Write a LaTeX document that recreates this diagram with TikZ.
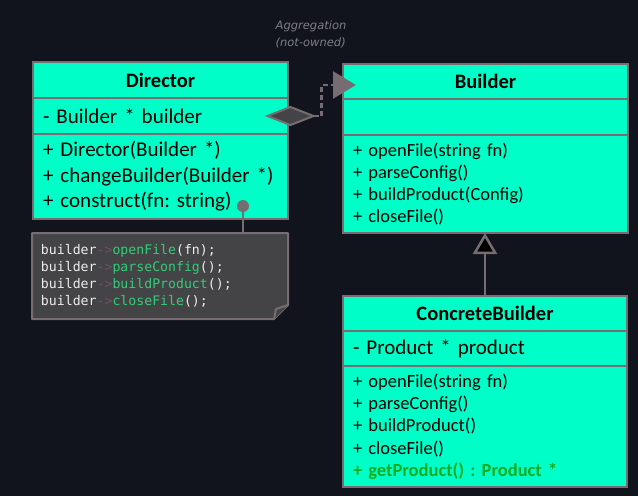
\documentclass[tikz,border=0pt]{standalone}
\usepackage{fontspec}
\setmainfont{Carlito}
\newfontfamily\codefont{DejaVu Sans Mono}
\newfontfamily\labelfont{DejaVu Sans}
\usepackage{xcolor}
\definecolor{bgdark}{RGB}{17,20,28}
\definecolor{boxfill}{RGB}{0,255,200}
\definecolor{boxline}{RGB}{118,108,114}
\definecolor{notefill}{RGB}{68,68,70}
\definecolor{codewhite}{RGB}{236,236,236}
\definecolor{codegreen}{RGB}{50,205,120}
\definecolor{codearrow}{RGB}{115,80,100}
\definecolor{getgreen}{RGB}{20,170,30}
\definecolor{labelgray}{RGB}{125,125,135}
\usepackage{tikz}
\usetikzlibrary{positioning,shapes.geometric,arrows.meta}
\frenchspacing

\begin{document}
\begin{tikzpicture}[x=1pt,y=-1pt,
  box/.style={draw=boxline, line width=2.5pt, fill=boxfill, outer sep=0pt,
    inner ysep=0pt, text=black},
  head/.style={box, font=\fontsize{20.5}{24}\selectfont\bfseries},
  cell/.style={box, align=left, inner xsep=10pt, text width=#1},
  big/.style={font=\fontsize{21}{25.5}\selectfont},
  small/.style={font=\fontsize{18.5}{22.3}\selectfont},
  note/.style={align=left, inner xsep=9pt, inner ysep=0pt, outer sep=0pt,
    text width=238pt, minimum height=86pt, text=codewhite,
    font=\codefont\fontsize{13.2}{17}\selectfont},
  notebox/.style={draw=boxline, line width=2pt, fill=notefill, line join=round},
  dot/.style={circle, fill=boxline, inner sep=0pt, minimum size=12pt},
  link/.style={draw=boxline, line width=2.5pt},
  aggdiamond/.style={diamond, draw=boxline, fill=notefill, line width=2pt,
    minimum width=46pt, minimum height=18pt, inner sep=0pt, outer sep=0pt},
  aggline/.style={link, dash pattern=on 5pt off 3pt,
    -{Triangle[width=27pt, length=23pt]}},
  inherit/.style={link, -{Triangle[fill=black, width=24pt, length=21pt]}},
  agglabel/.style={align=left, text=labelgray,
    font=\labelfont\itshape\fontsize{11.5}{17}\selectfont}]
  \fill[bgdark] (0,0) rectangle (638,496);

  % Director
  \node[head, minimum width=255pt, minimum height=36pt] (dirhead) at (160.5,80) {Director};
  \node[cell=235pt, big, minimum height=36pt, below=0pt of dirhead] (dirattr)
    {- Builder * builder};
  \node[cell=235pt, big, minimum height=85pt, below=0pt of dirattr] (dirmeth)
    {+ Director(Builder *)\\+ changeBuilder(Builder *)\\+ construct(fn: string)};

  % Builder
  \node[head, minimum width=285pt, minimum height=35pt] (bldhead) at (485.5,81.5) {Builder};
  \node[cell=265pt, minimum height=36pt, below=0pt of bldhead] (bldattr) {};
  \node[cell=265pt, small, minimum height=98pt, below=0pt of bldattr] (bldmeth)
    {+ openFile(string fn)\\+ parseConfig()\\+ buildProduct(Config)\\+ closeFile()};

  % ConcreteBuilder
  \node[head, minimum width=284pt, minimum height=35pt] (cbhead) at (485,313.5) {ConcreteBuilder};
  \node[cell=264pt, big, minimum height=35pt, below=0pt of cbhead] (cbattr)
    {- Product * product};
  \node[cell=264pt, small, minimum height=121pt, below=0pt of cbattr] (cbmeth)
    {+ openFile(string fn)\\+ parseConfig()\\+ buildProduct()\\+ closeFile()\\
     \textcolor{getgreen}{\bfseries + getProduct() : Product *}};

  % note
  \path[notebox] (32,233) -- (288,233) -- (288,305) -- (274,319) -- (32,319) -- cycle;
  \path[notebox] (288,305) -- (276,309) -- (274,319);
  \node[note] (code) at (160,276)
    {builder\textcolor{codearrow}{->}\textcolor{codegreen}{openFile}(fn);\\
     builder\textcolor{codearrow}{->}\textcolor{codegreen}{parseConfig}();\\
     builder\textcolor{codearrow}{->}\textcolor{codegreen}{buildProduct}();\\
     builder\textcolor{codearrow}{->}\textcolor{codegreen}{closeFile}();};
  \node[dot] (dirdot) at (243,206) {};
  \path[link] (dirdot) -- (code.north -| dirdot);

  % aggregation
  \node[agglabel] (agglbl) at (311,34.5) {Aggregation\\(not-owned)};
  \coordinate (aggtip) at (356,85);
  \node[aggdiamond] (agg) at (290.5,116) {};
  \path[aggline] (agg.east) -- ++(8,0) |- (aggtip);

  % inheritance
  \path[inherit] (cbhead.north) -- (cbhead.north |- bldmeth.south);
\end{tikzpicture}
\end{document}
